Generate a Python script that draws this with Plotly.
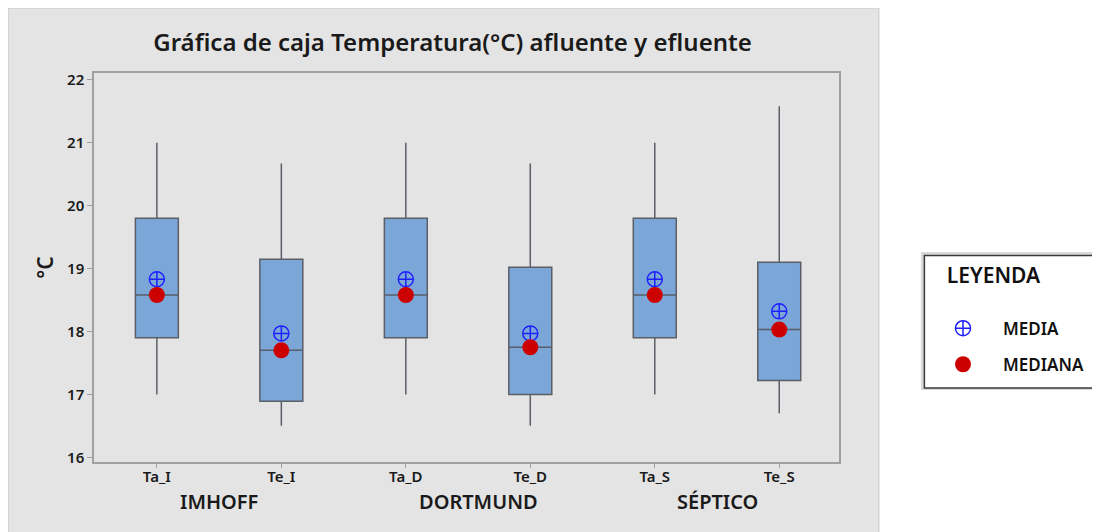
import plotly.graph_objects as go

categories = ["Ta_I", "Te_I", "Ta_D", "Te_D", "Ta_S", "Te_S"]
groups = ["IMHOFF", "DORTMUND", "SÉPTICO"]
group_pos = [0.5, 2.58, 4.5]
lower_whisker = [17.0, 16.5, 17.0, 16.5, 17.0, 16.7]
q1 = [17.9, 16.89, 17.9, 17.0, 17.9, 17.22]
median = [18.58, 17.7, 18.58, 17.75, 18.58, 18.03]
q3 = [19.8, 19.15, 19.8, 19.02, 19.8, 19.1]
upper_whisker = [21.0, 20.67, 21.0, 20.67, 21.0, 21.58]
mean = [18.83, 17.97, 18.83, 17.97, 18.83, 18.32]

FONT = "Noto Sans"
TXT = "#1a1a1a"

fig = go.Figure()
fig.add_trace(go.Box(
    x=categories, q1=q1, median=median, q3=q3,
    lowerfence=lower_whisker, upperfence=upper_whisker,
    fillcolor="#7ba7d8", line=dict(color="#5a5e66", width=1.5),
    whiskerwidth=0, width=0.345, showlegend=False, hoverinfo="skip",
))
fig.add_trace(go.Scatter(
    x=categories, y=mean, mode="markers", name="MEDIA", legendgroup="a",
    marker=dict(symbol="circle-cross-open", size=15, color="#1f1fff",
                line=dict(width=1.5, color="#1f1fff")),
))
fig.add_trace(go.Scatter(
    x=categories, y=median, mode="markers", name="MEDIANA", legendgroup="b",
    marker=dict(symbol="circle", size=16, color="#cc0000"),
))

# page has an 8px body margin: work in reference pixel coordinates
OFF = 8
W, H = 1100 - OFF, 532 - OFF
PL, PR, PT, PB = 94, 840, 73, 462  # plot box in reference pixels
L, R, T, B = PL - OFF, W - (PR - OFF), PT - OFF, H - (PB - OFF)
PW = PR - PL
PH = PB - PT

def px(x):
    return (x - PL) / PW

def py(y):
    return (PB - y) / PH

shapes = [
    dict(type="rect", xref="paper", yref="paper", layer="below",
         x0=px(8), x1=px(880), y0=py(540), y1=py(8),
         fillcolor="#e4e4e4", line=dict(color="#c8c8c8", width=1)),
    dict(type="rect", xref="paper", yref="paper", layer="below",
         x0=px(922), x1=px(1104), y0=py(390), y1=py(252),
         fillcolor="#dadada", line=dict(width=0)),
    dict(type="rect", xref="paper", yref="paper", layer="below",
         x0=px(925.5), x1=px(1104), y0=py(388), y1=py(255.5),
         fillcolor="#ffffff", line=dict(color="#3a3a3a", width=1.5)),
]

annotations = [
    dict(x=gp, y=py(502), xref="x", yref="paper", text=g, showarrow=False,
         font=dict(family=FONT, size=20, color=TXT, weight=600),
         xanchor="center", yanchor="middle")
    for g, gp in zip(groups, group_pos)
]

fig.update_layout(
    width=W, height=H,
    margin=dict(l=L, r=R, t=T, b=B),
    paper_bgcolor="#ffffff", plot_bgcolor="#ffffff",
    font=dict(family=FONT, color=TXT),
    title=dict(text="Gráfica de caja Temperatura(°C) afluente y efluente",
               x=px(453), xref="paper", xanchor="center",
               y=1 - (43 - OFF) / H, yanchor="middle",
               font=dict(family=FONT, size=24, color=TXT, weight=600)),
    xaxis=dict(type="category", range=[-0.505, 5.48], showgrid=False,
               showline=True, mirror=True, linecolor="#a0a0a0", linewidth=1.5,
               ticks="outside", ticklen=4, tickcolor="#a0a0a0",
               ticklabelstandoff=-4,
               tickfont=dict(family=FONT, size=15, color=TXT, weight=600),
               zeroline=False),
    yaxis=dict(range=[15.925, 22.11], dtick=1, showgrid=False,
               showline=True, mirror=True, linecolor="#a0a0a0", linewidth=1.5,
               ticks="outside", ticklen=5, tickcolor="#a0a0a0",
               tickfont=dict(family=FONT, size=15, color=TXT, weight=600),
               title=dict(text="°C", standoff=8,
                          font=dict(family=FONT, size=21, color=TXT, weight=600)),
               zeroline=False),
    legend=dict(x=px(923), y=py(256), xanchor="left", yanchor="top",
                bgcolor="rgba(0,0,0,0)", borderwidth=0,
                title=dict(text="&nbsp;&nbsp;&nbsp;&nbsp;LEYENDA<br>&nbsp;",
                           font=dict(family=FONT, size=21, color="#111111", weight=600)),
                font=dict(family=FONT, size=17, color="#111111", weight=600),
                itemwidth=70, tracegroupgap=11, traceorder="grouped"),
    shapes=shapes,
    annotations=annotations,
)

fig.write_html("out.html")
